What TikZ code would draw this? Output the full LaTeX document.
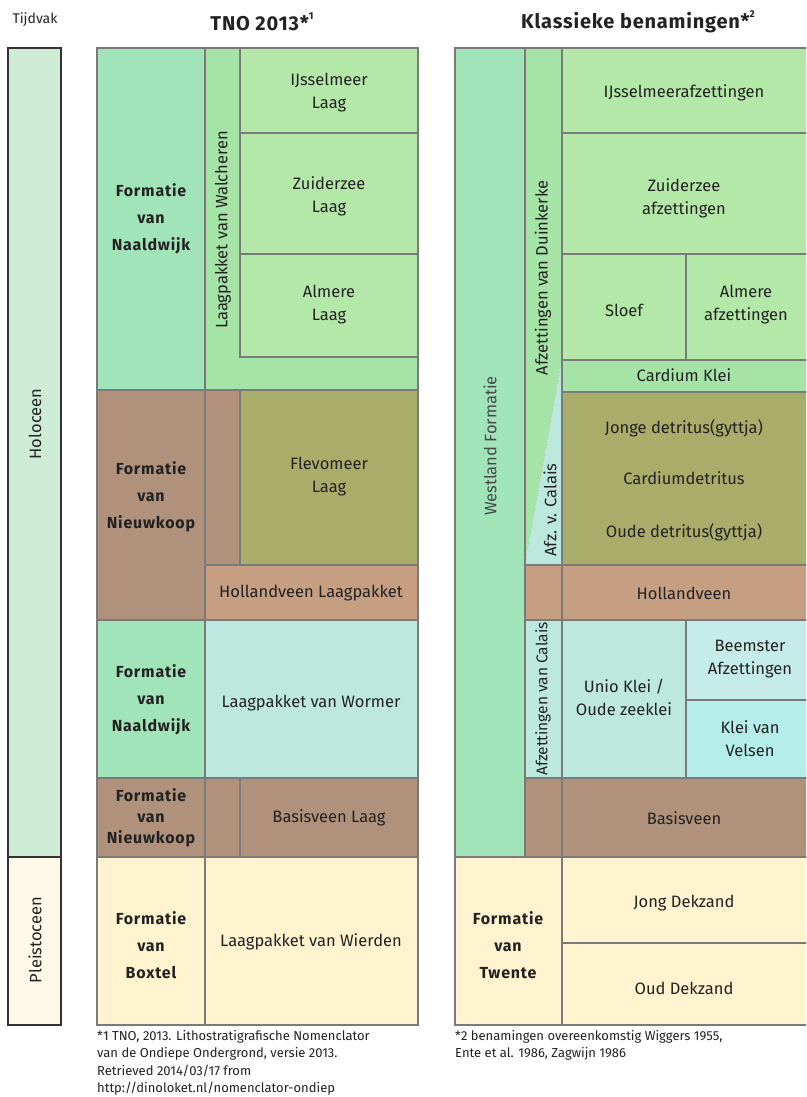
\documentclass[tikz,border=0pt]{standalone}
\usepackage{fontspec}
\setmainfont{Fira Sans}
\usepackage{xcolor}

\definecolor{gridgray}{HTML}{7A7A7A}
\definecolor{inkgray}{HTML}{222222}
\definecolor{mint}{HTML}{A2E4BA}
\definecolor{walgreen}{HTML}{A6E3A6}
\definecolor{lightgreen}{HTML}{B4E8A8}
\definecolor{peatbrown}{HTML}{B0917C}
\definecolor{olive}{HTML}{A8AE6A}
\definecolor{tan}{HTML}{C69E82}
\definecolor{clayteal}{HTML}{BDE8DE}
\definecolor{beemster}{HTML}{C6ECEA}
\definecolor{velsen}{HTML}{B4EDE9}
\definecolor{sand}{HTML}{FFF4CF}
\definecolor{holoceen}{HTML}{CDEBD5}
\definecolor{pleistoceen}{HTML}{FEF8E8}

\newcommand{\smallsup}[1]{\raisebox{0.55em}{\fontsize{10}{10}\selectfont #1}}

\tikzset{
  cell/.style={draw=gridgray, line width=2.4pt},
  eracell/.style={draw=black!80, line width=1.6pt},
  lab/.style={text=inkgray, align=center, inner sep=0pt, font=\fontsize{16.5}{23}\selectfont},
  formlab/.style={lab, font=\fontsize{16}{27}\selectfont\bfseries\addfontfeature{LetterSpace=5}},
  tightform/.style={formlab, font=\fontsize{16}{21}\selectfont\bfseries\addfontfeature{LetterSpace=5}},
  sidelab/.style={lab, rotate=90},
  headlab/.style={text=inkgray, inner sep=0pt, font=\fontsize{20}{22}\selectfont\bfseries\addfontfeature{LetterSpace=4}},
  notelab/.style={text=inkgray, align=left, anchor=north west, inner sep=0pt, font=\fontsize{13}{17.5}\selectfont}
}

\begin{document}
\begin{tikzpicture}[x=1pt, y=-1pt]
  \useasboundingbox (0,0) rectangle (806,1097);
  \clip (0,0) rectangle (806,1097);

  % ==========================================
  % Headers
  % ==========================================
  \node[text=inkgray, font=\fontsize{14}{16}\selectfont] (tijdvak) at (35,20) {Tijdvak};
  \node[headlab] (tno) at (262,22) {TNO 2013*\smallsup{1}};
  \node[headlab] (klassiek) at (638,22) {Klassieke benamingen*\smallsup{2}};

  % ==========================================
  % Tijdvak column
  % ==========================================
  \draw[eracell, fill=holoceen] (8,48) rectangle (61,857);
  \draw[eracell, fill=pleistoceen] (8,857) rectangle (61,1025);
  \node[sidelab] (holo) at (35,424) {Holoceen};
  \node[sidelab] (pleisto) at (35,940) {Pleistoceen};

  % ==========================================
  % TNO 2013 column
  % ==========================================
  % Naaldwijk (top)
  \draw[cell, fill=mint] (97,48) rectangle (205,390);
  \draw[cell, fill=walgreen] (205,48) rectangle (418,390);
  \draw[cell, fill=lightgreen] (240,48) rectangle (418,133);
  \draw[cell, fill=lightgreen] (240,133) rectangle (418,254);
  \draw[cell, fill=lightgreen] (240,254) rectangle (418,357);
  \node[formlab] (naaldwijk1) at (151,219) {Formatie\\van\\Naaldwijk};
  \node[sidelab] (walcheren) at (223,230) {Laagpakket van Walcheren};
  \node[lab] (ijsselmeer) at (329,93) {IJsselmeer\\Laag};
  \node[lab] (zuiderzee) at (329,196) {Zuiderzee\\Laag};
  \node[lab] (almere) at (329,305) {Almere\\Laag};

  % Nieuwkoop (top)
  \draw[cell, fill=peatbrown] (97,390) rectangle (205,620);
  \draw[cell, fill=peatbrown] (205,390) rectangle (240,565);
  \draw[cell, fill=olive] (240,390) rectangle (418,565);
  \draw[cell, fill=tan] (205,565) rectangle (418,620);
  \node[formlab] (nieuwkoop1) at (151,497) {Formatie\\van\\Nieuwkoop};
  \node[lab] (flevomeer) at (329,477) {Flevomeer\\Laag};
  \node[lab] (hollandveen1) at (311,593) {Hollandveen Laagpakket};

  % Naaldwijk (bottom)
  \draw[cell, fill=mint] (97,620) rectangle (205,778);
  \draw[cell, fill=clayteal] (205,620) rectangle (418,778);
  \node[formlab] (naaldwijk2) at (151,700) {Formatie\\van\\Naaldwijk};
  \node[lab] (wormer) at (311,703) {Laagpakket van Wormer};

  % Nieuwkoop (bottom)
  \draw[cell, fill=peatbrown] (97,778) rectangle (205,857);
  \draw[cell, fill=peatbrown] (205,778) rectangle (240,857);
  \draw[cell, fill=peatbrown] (240,778) rectangle (418,857);
  \node[tightform] (nieuwkoop2) at (151,818) {Formatie\\van\\Nieuwkoop};
  \node[lab] (basisveen1) at (329,818) {Basisveen Laag};

  % Boxtel
  \draw[cell, fill=sand] (97,857) rectangle (205,1025);
  \draw[cell, fill=sand] (205,857) rectangle (418,1025);
  \node[formlab] (boxtel) at (151,945) {Formatie\\van\\Boxtel};
  \node[lab] (wierden) at (311,942) {Laagpakket van Wierden};

  % ==========================================
  % Klassieke benamingen column
  % ==========================================
  % Westland Formatie
  \draw[cell, fill=mint] (455,48) rectangle (525,857);
  \node[sidelab, text=black!72] (westland) at (490,446) {Westland Formatie};

  % Duinkerke / Calais wedge
  \fill[walgreen] (525,48) -- (562,48) -- (562,360) -- (525,565) -- cycle;
  \fill[clayteal] (525,565) -- (562,360) -- (562,565) -- cycle;
  \draw[gridgray!60, dotted, line width=0.6pt] (525,565) -- (562,360);
  \draw[cell] (525,48) rectangle (562,565);
  \node[sidelab] (duinkerke) at (543,278) {Afzettingen van Duinkerke};
  \node[sidelab] (afzcalais) at (550,510) {Afz. v. Calais};

  % Duinkerke layers
  \draw[cell, fill=lightgreen] (562,48) rectangle (812,133);
  \draw[cell, fill=lightgreen] (562,133) rectangle (812,254);
  \draw[cell, fill=lightgreen] (562,254) rectangle (686,360);
  \draw[cell, fill=lightgreen] (686,254) rectangle (812,360);
  \draw[cell, fill=walgreen] (562,360) rectangle (812,392);
  \node[lab] (ijsselafz) at (684,93) {IJsselmeerafzettingen};
  \node[lab] (zuiderafz) at (684,198) {Zuiderzee\\afzettingen};
  \node[lab] (sloef) at (624,310) {Sloef};
  \node[lab] (almereafz) at (746,305) {Almere\\afzettingen};
  \node[lab] (cardiumklei) at (684,375) {Cardium Klei};

  % Detritus
  \draw[cell, fill=olive] (562,392) rectangle (812,565);
  \node[lab] (jonge) at (684,428) {Jonge detritus(gyttja)};
  \node[lab] (cardiumdet) at (684,478) {Cardiumdetritus};
  \node[lab] (oude) at (684,532) {Oude detritus(gyttja)};

  % Hollandveen
  \draw[cell, fill=tan] (525,565) rectangle (562,620);
  \draw[cell, fill=tan] (562,565) rectangle (812,620);
  \node[lab] (hollandveen2) at (684,593) {Hollandveen};

  % Calais
  \draw[cell, fill=clayteal] (525,620) rectangle (562,778);
  \draw[cell, fill=clayteal] (562,620) rectangle (686,778);
  \draw[cell, fill=beemster] (686,620) rectangle (812,700);
  \draw[cell, fill=velsen] (686,700) rectangle (812,778);
  \node[sidelab, font=\fontsize{15.5}{20}\selectfont] (calais) at (543,699) {Afzettingen van Calais};
  \node[lab] (unio) at (624,697) {Unio Klei /\\Oude zeeklei};
  \node[lab] (beemsterafz) at (750,659) {Beemster\\Afzettingen};
  \node[lab] (kleivelsen) at (750,739) {Klei van\\Velsen};

  % Basisveen
  \draw[cell, fill=peatbrown] (525,778) rectangle (562,857);
  \draw[cell, fill=peatbrown] (562,778) rectangle (812,857);
  \node[lab] (basisveen2) at (684,818) {Basisveen};

  % Twente
  \draw[cell, fill=sand] (455,857) rectangle (562,1025);
  \draw[cell, fill=sand] (562,857) rectangle (812,943);
  \draw[cell, fill=sand] (562,943) rectangle (812,1025);
  \node[formlab] (twente) at (508,945) {Formatie\\van\\Twente};
  \node[lab] (jongdek) at (684,903) {Jong Dekzand};
  \node[lab] (ouddek) at (684,988) {Oud Dekzand};

  % ==========================================
  % Footnotes
  % ==========================================
  \node[notelab] (note1) at (97,1030) {*1 TNO, 2013. Lithostratigrafische Nomenclator\\van de Ondiepe Ondergrond, versie 2013.\\Retrieved 2014/03/17 from\\http://dinoloket.nl/nomenclator-ondiep};
  \node[notelab] (note2) at (455,1030) {*2 benamingen overeenkomstig Wiggers 1955,\\Ente et al. 1986, Zagwijn 1986};

\end{tikzpicture}
\end{document}
